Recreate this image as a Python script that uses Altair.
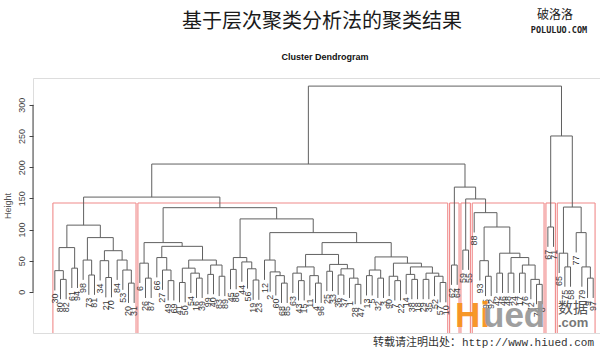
import altair as alt
import pandas as pd

# ---------------- data: dendrogram clusters (height, left, right); leaves are labels ----------------
box1_tree = [107,
             [71, [34, "30", [20, "80", "82"]], [38, "61", "94"]],
             [87, [51, "98", [27, "73", "81"]],
                  [66, [50, "34", [23, "21", "70"]],
                       [51, "84", [35, "53", [14, "20", "31"]]]]]]

box2_tree = [135,
             [79, [46, "6", [22, "26", "87"]],
                  [73, [55, "66", [35, "27", [18, "49", "69"]]],
                       [51, [38, [15, "41", "50"], [30, "54", [22, "16", "39"]]],
                            [43, [28, "99", "40"], [25, "83", "89"]]]]],
             [117, [55, [36, "45", "86"], [48, "44", [37, "56", [19, "19", "23"]]]],
                   [95, [51, "12", [32, "2", [26, "60", [14, "68", "85"]]]],
                        [79, [60, [40, [30, "63", [18, "43", "15"]], [26, "11", [14, "4", "96"]]],
                                  [44, [33, "25", "33"], [37, [27, "36", "37"], [22, "1", [12, "28", "47"]]]]],
                             [56, [35, [26, "13", "5"], [22, "32", "3"]],
                                  [46, [25, "90", [18, "7", "22"]],
                                       [40, [28, "14", [20, "38", "18"]],
                                            [30, [20, "29", "35"], [25, "52", [15, "57", "10"]]]]]]]]]]

box3_tree = [43, "62", "64"]
box4_tree = [67, "59", "55"]
box5_tree = [127, "88", [104, [50, "93", [25, "95", "92"]],
                             [62, [30, "42", "46"],
                                  [55, [30, "48", "24"],
                                       [43, [30, "17", "76"], [20, "72", [12, "74", "8"]]]]]]]
box6_tree = [104, "67", "71"]
box7_tree = [136, [62, "65", [40, "75", "58"]], [95, "77", [40, "79", [22, "9", "97"]]]]

# upper merges
h_box1_box2 = 152
h_box4_box5 = 149
h_box3_rest = 168
h_left = 205
h_right = 250
h_root = 330

clusters = [box1_tree, box2_tree, box3_tree, box4_tree, box5_tree, box6_tree, box7_tree]
k_clusters = 7
y_ticks = [0, 50, 100, 150, 200, 250, 300]
y_lo, y_hi = -66, 343

root = [h_root,
        [h_left, [h_box1_box2, box1_tree, box2_tree],
                 [h_box3_rest, box3_tree, [h_box4_box5, box4_tree, box5_tree]]],
        [h_right, box6_tree, box7_tree]]

# ---------------- layout (as R's plot.hclust) ----------------
def heights(node):
    if isinstance(node, str):
        return []
    return [node[0]] + heights(node[1]) + heights(node[2])

def n_leaves(node):
    return 1 if isinstance(node, str) else n_leaves(node[1]) + n_leaves(node[2])

all_h = heights(root)
hang = 0.1 * (max(all_h) - min(all_h))

leaf_rows, seg_rows = [], []

def walk(node):
    if isinstance(node, str):
        leaf_rows.append({"label": node, "x": float(len(leaf_rows) + 1), "y": 0.0})
        return leaf_rows[-1]["x"], None, len(leaf_rows) - 1
    h, left, right = node
    xs = []
    for child in (left, right):
        cx, ch, li = walk(child)
        if ch is None:
            bottom = h - hang
            leaf_rows[li]["y"] = bottom
        else:
            bottom = ch
        seg_rows.append({"x": cx, "x2": cx, "y": bottom, "y2": h})
        xs.append(cx)
    seg_rows.append({"x": xs[0], "x2": xs[1], "y": h, "y2": h})
    return (xs[0] + xs[1]) / 2, h, None

walk(root)
n_total = len(leaf_rows)

hs = sorted(all_h, reverse=True)
box_top = (hs[k_clusters - 2] + hs[k_clusters - 1]) / 2
box_rows = []
m = 0
for c in clusters:
    n = n_leaves(c)
    xl, xr = m + 0.66, m + n + 0.33
    box_rows.append({"x": xl, "x2": xl, "y": y_lo, "y2": box_top})
    box_rows.append({"x": xr, "x2": xr, "y": y_lo, "y2": box_top})
    box_rows.append({"x": xl, "x2": xr, "y": box_top, "y2": box_top})
    m += n

segs = pd.DataFrame(seg_rows)
leaves = pd.DataFrame(leaf_rows)
boxes = pd.DataFrame(box_rows)

spread = 0.04 * (n_total - 1)
xscale = alt.Scale(domain=[1 - spread - 0.05, n_total + 1.2], nice=False, zero=False)
yscale = alt.Scale(domain=[y_lo, y_hi], nice=False, zero=False)

yaxis = alt.Axis(values=y_ticks, domain=False, grid=False, tickSize=4, tickColor="#444",
                 labelAngle=270, labelAlign="center", labelBaseline="bottom", labelPadding=3,
                 labelFontSize=9, labelColor="#444", labelFont="Liberation Sans",
                 title="Height", titleFontSize=9, titleFont="Liberation Sans",
                 titleFontWeight="normal", titleColor="#555", titlePadding=5)

box_layer = alt.Chart(boxes).mark_rule(color="#f08a8a", strokeWidth=1.1).encode(
    x=alt.X("x:Q", scale=xscale, axis=None), x2="x2:Q",
    y=alt.Y("y:Q", scale=yscale, axis=yaxis), y2="y2:Q")

tree_layer = alt.Chart(segs).mark_rule(color="#606060", strokeWidth=1).encode(
    x=alt.X("x:Q", scale=xscale, axis=None), x2="x2:Q",
    y=alt.Y("y:Q", scale=yscale), y2="y2:Q")

label_layer = alt.Chart(leaves).mark_text(angle=270, align="right", baseline="middle", dx=-3,
                                          fontSize=9, font="Liberation Sans", color="#3a3a3a").encode(
    x=alt.X("x:Q", scale=xscale), y=alt.Y("y:Q", scale=yscale), text="label:N")

axis_line = alt.Chart(pd.DataFrame({"a": [y_ticks[0]], "b": [y_ticks[-1]]})).mark_rule(
    color="#444", strokeWidth=1).encode(x=alt.value(0), y=alt.Y("a:Q", scale=yscale), y2="b:Q")

# titles and watermark / annotation texts
def note(txt, x, y, size, color, font, weight="normal", align="left", baseline="middle", opacity=1.0):
    return alt.Chart(pd.DataFrame({"t": [txt]})).mark_text(
        align=align, baseline=baseline, fontSize=size, color=color, font=font,
        fontWeight=weight, opacity=opacity).encode(x=alt.value(x), y=alt.value(y), text="t:N")

notes = [
    note("基于层次聚类分析法的聚类结果", 289, -56, 20, "#1a1a1a", "Noto Sans CJK SC", align="center"),
    note("Cluster Dendrogram", 292, -21, 9, "#111", "Liberation Sans", weight="bold", align="center"),
    note("破洛洛", 522, -63, 12, "#222", "Noto Sans CJK SC", align="center"),
    note("POLULUO.COM", 526, -48, 8.5, "#222", "DejaVu Sans Mono", weight="bold", align="center"),
    note("转载请注明出处：", 340, 265, 11, "#333", "Noto Sans CJK SC"),
    note("http://www.hiued.com", 429, 265, 11, "#333", "Liberation Mono"),
    note("Hi", 422, 249, 35, "#f7931e", "Liberation Sans", weight="bold", baseline="alphabetic", opacity=0.95),
    note("ued", 450, 249, 35, "#9a9a9a", "Liberation Sans", weight="bold", baseline="alphabetic", opacity=0.95),
    note("数据", 525, 230, 15, "#555", "Noto Sans CJK SC"),
    note(".com", 525, 249, 13, "#777", "Liberation Sans", weight="bold", baseline="alphabetic"),
]

chart = alt.layer(box_layer, tree_layer, label_layer, axis_line, *notes).properties(
    width=567, height=255,
    padding={"left": 33, "top": 78, "right": 0, "bottom": 18},
    autosize=alt.AutoSizeParams(type="none"),
).configure_view(stroke=None).configure(background="white")

chart.save("out.html", embed_options={"renderer": "svg", "actions": False})
